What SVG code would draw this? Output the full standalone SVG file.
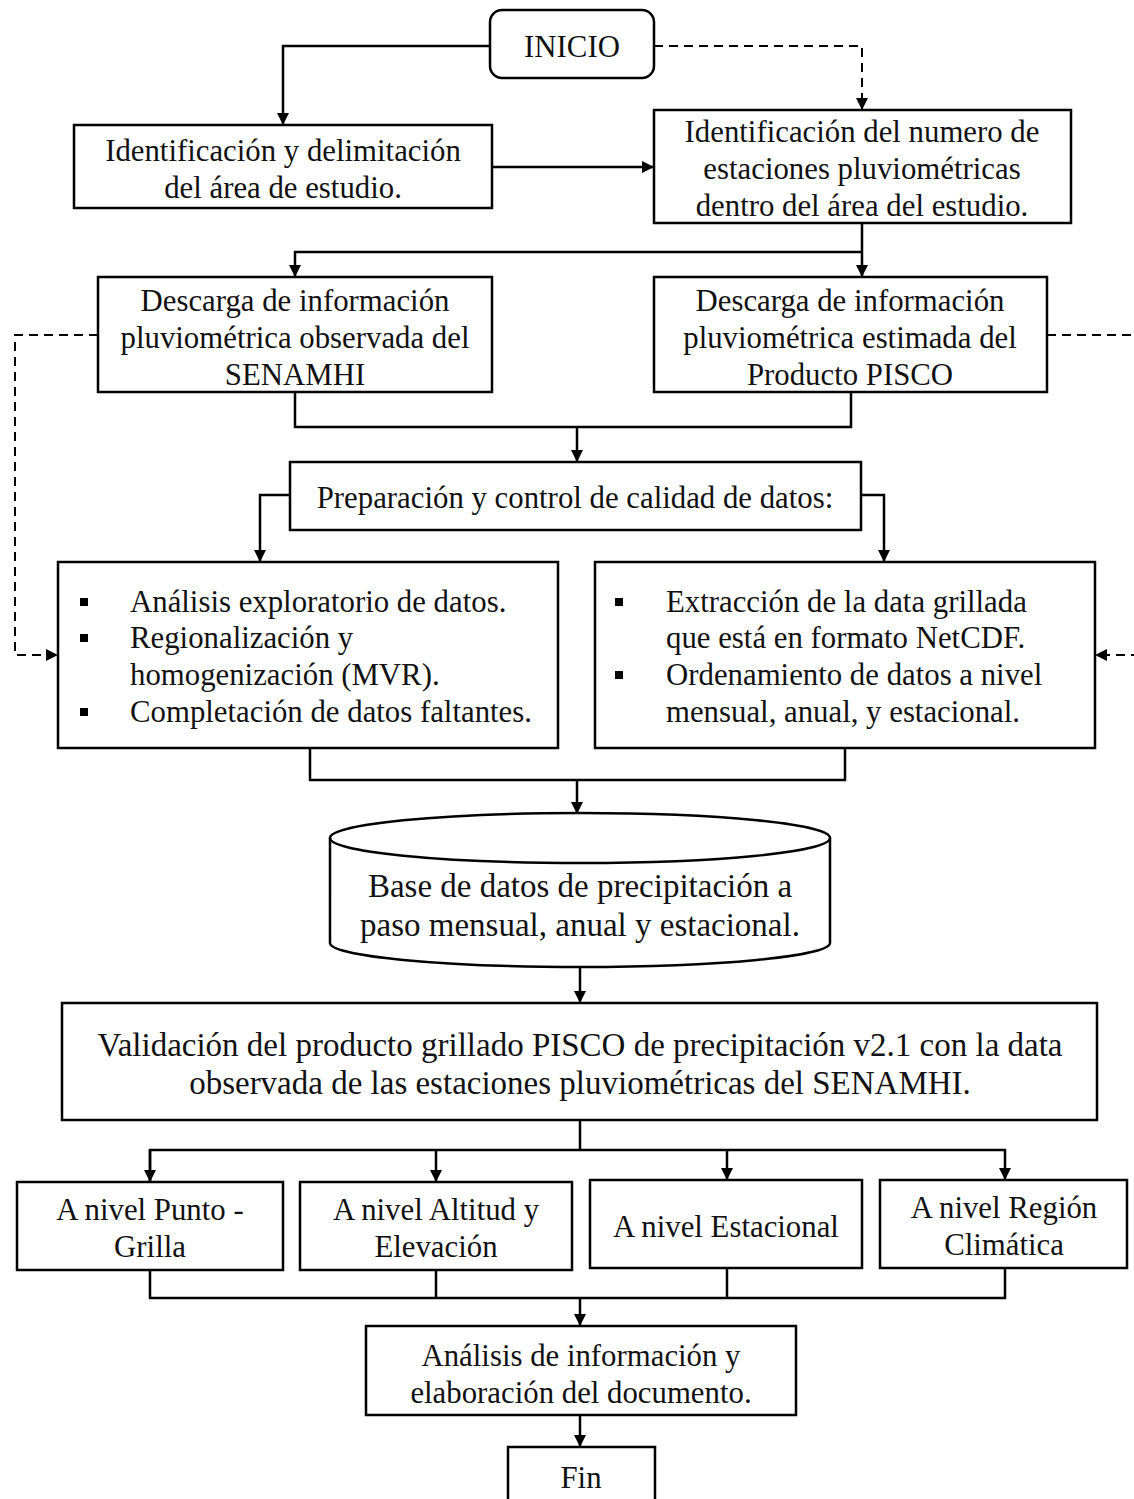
<svg xmlns="http://www.w3.org/2000/svg" width="1134" height="1499" viewBox="0 0 1134 1499">
<style>
.b{fill:#fff;stroke:#000;stroke-width:2.5}
.t{font-family:"Liberation Serif","Times New Roman",serif;font-size:30.8px;fill:#111;text-anchor:middle}
.l{font-family:"Liberation Serif","Times New Roman",serif;font-size:30.8px;fill:#111}
.big{font-size:33px}
.c{fill:none;stroke:#000;stroke-width:2.5}
.d{fill:none;stroke:#000;stroke-width:2;stroke-dasharray:9,6}
</style>
<defs>
<marker id="a" markerUnits="userSpaceOnUse" markerWidth="12" markerHeight="12" refX="11" refY="6" orient="auto"><path d="M0,0 L12,6 L0,12 Z" fill="#000"/></marker>
</defs>
<rect width="1134" height="1499" fill="#fff"/>
<g id="connectors">
<path class="c" d="M490,46 H283 V124" marker-end="url(#a)"/>
<path class="d" d="M654,46 H862 V109" marker-end="url(#a)"/>
<path class="c" d="M492,167 H653" marker-end="url(#a)"/>
<path class="c" d="M862,223 V276" marker-end="url(#a)"/>
<path class="c" d="M862,252 H295 V276" marker-end="url(#a)"/>
<path class="d" d="M98,335 H15 V655 H57" marker-end="url(#a)"/>
<path class="d" d="M1047,335 H1140"/>
<path class="d" d="M1140,655 H1096" marker-end="url(#a)"/>
<path class="c" d="M295,392 V427 H851 V392"/>
<path class="c" d="M577,427 V461" marker-end="url(#a)"/>
<path class="c" d="M290,495 H260 V561" marker-end="url(#a)"/>
<path class="c" d="M861,495 H884 V561" marker-end="url(#a)"/>
<path class="c" d="M310,748 V780 H845 V748"/>
<path class="c" d="M577,780 V813" marker-end="url(#a)"/>
<path class="c" d="M580,967 V1002" marker-end="url(#a)"/>
<path class="c" d="M580,1120 V1150"/>
<path class="c" d="M150,1181 V1150 H1005 V1179" marker-end="url(#a)"/>
<path class="c" d="M150,1150 V1181" marker-end="url(#a)"/>
<path class="c" d="M436,1150 V1181" marker-end="url(#a)"/>
<path class="c" d="M727,1150 V1179" marker-end="url(#a)"/>
<path class="c" d="M150,1270 V1298 H1005 V1268"/>
<path class="c" d="M436,1270 V1298"/>
<path class="c" d="M727,1268 V1298"/>
<path class="c" d="M580,1298 V1325" marker-end="url(#a)"/>
<path class="c" d="M580,1415 V1446" marker-end="url(#a)"/>
</g>
<g id="inicio"><rect class="b" x="490" y="10" width="164" height="68" rx="12"/><text class="t" x="572" y="57">INICIO</text></g>
<g id="n1"><rect class="b" x="74" y="125" width="418" height="83"/><text class="t" x="283" y="161">Identificación y delimitación</text><text class="t" x="283" y="198">del área de estudio.</text></g>
<g id="n2"><rect class="b" x="654" y="110" width="417" height="113"/><text class="t" x="862" y="142">Identificación del numero de</text><text class="t" x="862" y="179">estaciones pluviométricas</text><text class="t" x="862" y="216">dentro del área del estudio.</text></g>
<g id="n3"><rect class="b" x="98" y="277" width="394" height="115"/><text class="t" x="295" y="311">Descarga de información</text><text class="t" x="295" y="348">pluviométrica observada del</text><text class="t" x="295" y="385">SENAMHI</text></g>
<g id="n4"><rect class="b" x="654" y="277" width="393" height="115"/><text class="t" x="850" y="311">Descarga de información</text><text class="t" x="850" y="348">pluviométrica estimada del</text><text class="t" x="850" y="385">Producto PISCO</text></g>
<g id="n5"><rect class="b" x="290" y="462" width="571" height="68"/><text class="t" x="575" y="508">Preparación y control de calidad de datos:</text></g>
<g id="n6"><rect class="b" x="58" y="562" width="500" height="186"/>
<rect x="80" y="598" width="8" height="8"/><rect x="80" y="634" width="8" height="8"/><rect x="80" y="708" width="8" height="8"/>
<text class="l" x="130" y="612">Análisis exploratorio de datos.</text><text class="l" x="130" y="648">Regionalización y</text><text class="l" x="130" y="685">homogenización (MVR).</text><text class="l" x="130" y="722">Completación de datos faltantes.</text></g>
<g id="n7"><rect class="b" x="595" y="562" width="500" height="186"/>
<rect x="615" y="598" width="8" height="8"/><rect x="615" y="671" width="8" height="8"/>
<text class="l" x="666" y="612">Extracción de la data grillada</text><text class="l" x="666" y="648">que está en formato NetCDF.</text><text class="l" x="666" y="685">Ordenamiento de datos a nivel</text><text class="l" x="666" y="722">mensual, anual, y estacional.</text></g>
<g id="n8"><path class="b" d="M330,838 A250,25 0 0 1 830,838 V943 A250,24 0 0 1 330,943 Z"/><path class="c" d="M330,838 A250,25 0 0 0 830,838"/>
<text class="t big" x="580" y="897">Base de datos de precipitación a</text><text class="t big" x="580" y="936">paso mensual, anual y estacional.</text></g>
<g id="n9"><rect class="b" x="62" y="1003" width="1035" height="117"/><text class="t big" x="580" y="1056">Validación del producto grillado PISCO de precipitación v2.1 con la data</text><text class="t big" x="580" y="1094">observada de las estaciones pluviométricas del SENAMHI.</text></g>
<g id="n10"><rect class="b" x="17" y="1182" width="266" height="88"/><text class="t" x="150" y="1220">A nivel Punto -</text><text class="t" x="150" y="1257">Grilla</text></g>
<g id="n11"><rect class="b" x="300" y="1182" width="272" height="88"/><text class="t" x="436" y="1220">A nivel Altitud y</text><text class="t" x="436" y="1257">Elevación</text></g>
<g id="n12"><rect class="b" x="590" y="1180" width="272" height="88"/><text class="t" x="726" y="1237">A nivel Estacional</text></g>
<g id="n13"><rect class="b" x="880" y="1180" width="247" height="88"/><text class="t" x="1004" y="1218">A nivel Región</text><text class="t" x="1004" y="1255">Climática</text></g>
<g id="n14"><rect class="b" x="366" y="1326" width="430" height="89"/><text class="t" x="581" y="1366">Análisis de información y</text><text class="t" x="581" y="1403">elaboración del documento.</text></g>
<g id="fin"><rect class="b" x="508" y="1447" width="147" height="60"/><text class="t" x="581" y="1488">Fin</text></g>
</svg>
